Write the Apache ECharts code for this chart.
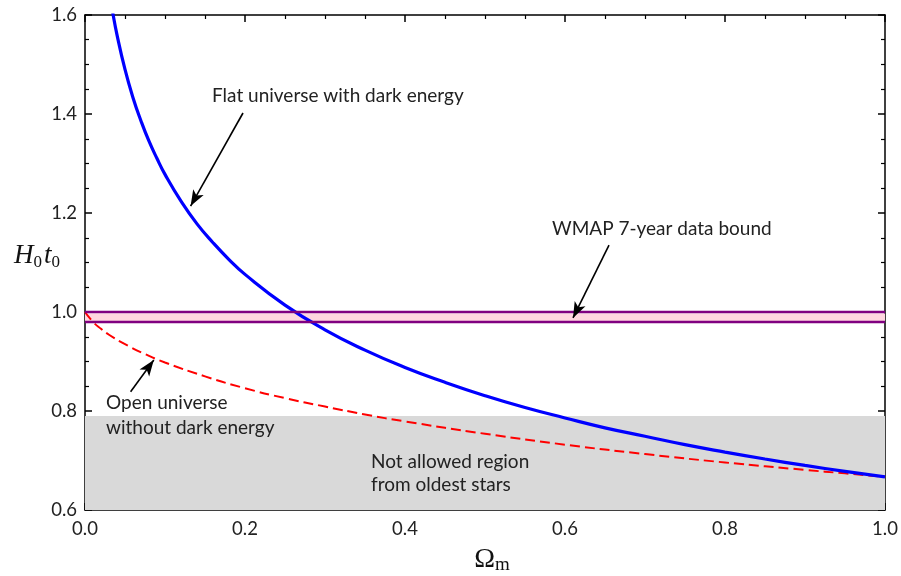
<!DOCTYPE html>
<html>
<head>
<meta charset="utf-8">
<script src="https://cdn.jsdelivr.net/npm/echarts@6/dist/echarts.min.js"></script>
<style>
html,body{margin:0;padding:0;background:#fff;}
#main{width:901px;height:576px;}
</style>
</head>
<body>
<div id="main"></div>
<script>
// ---- data ----
const xTicks = [0.0, 0.2, 0.4, 0.6, 0.8, 1.0];
const yTicks = [0.6, 0.8, 1.0, 1.2, 1.4, 1.6];

// Flat universe with dark energy (blue solid)
const omegaFlat = [0.03, 0.035, 0.04, 0.05, 0.06, 0.07, 0.08, 0.09, 0.10, 0.12, 0.14, 0.16, 0.18, 0.20, 0.25, 0.30, 0.35, 0.40, 0.45, 0.50, 0.55, 0.60, 0.65, 0.70, 0.75, 0.80, 0.85, 0.90, 0.95, 1.00];
const h0t0Flat  = [1.651, 1.602, 1.560, 1.490, 1.433, 1.386, 1.345, 1.310, 1.278, 1.224, 1.178, 1.140, 1.106, 1.076, 1.014, 0.964, 0.923, 0.888, 0.858, 0.831, 0.807, 0.786, 0.766, 0.749, 0.732, 0.717, 0.703, 0.690, 0.678, 0.667];

// Open universe without dark energy (red dashed)
const omegaOpen = [0.00, 0.01, 0.02, 0.03, 0.05, 0.075, 0.10, 0.15, 0.20, 0.25, 0.30, 0.35, 0.40, 0.50, 0.60, 0.70, 0.80, 0.90, 0.95, 1.00];
const h0t0Open  = [1.000, 0.980, 0.966, 0.954, 0.935, 0.915, 0.898, 0.870, 0.846, 0.826, 0.809, 0.793, 0.779, 0.754, 0.732, 0.713, 0.696, 0.681, 0.674, 0.667];

// WMAP 7-year band and excluded region (oldest stars)
const wmapBand = [0.980, 0.997];
const starsRegion = [0.6, 0.79];

// annotation arrows: [start, end] in data coordinates
const arrowFlat = [[0.1975, 1.402], [0.132, 1.214]];
const arrowWmap = [[0.655, 1.135], [0.610, 0.988]];
const arrowOpen = [[0.057, 0.839], [0.086, 0.903]];

const flatData = omegaFlat.map((x, i) => [x, h0t0Flat[i]]);
const openData = omegaOpen.map((x, i) => [x, h0t0Open[i]]);

const chart = echarts.init(document.getElementById('main'), null, {renderer: 'canvas'});

const tickFont = {fontFamily: 'Lato', fontSize: 18.5, color: '#222'};
const axisLineStyle = {color: '#000', width: 1.5};

function xAxisDef(pos, showLabel) {
  return {
    type: 'value', position: pos, min: 0, max: 1, interval: 0.2,
    axisLine: {show: true, onZero: false, lineStyle: axisLineStyle},
    axisTick: {show: true, inside: true, length: 7, lineStyle: {color: '#000', width: 1.5}},
    minorTick: {show: true, splitNumber: 4, length: 4, lineStyle: {color: '#000', width: 1.2}},
    axisLabel: Object.assign({show: showLabel, margin: 10, formatter: v => v.toFixed(1)}, tickFont),
    splitLine: {show: false}
  };
}
function yAxisDef(pos, showLabel) {
  return {
    type: 'value', position: pos, min: 0.6, max: 1.6, interval: 0.2,
    axisLine: {show: true, onZero: false, lineStyle: axisLineStyle},
    axisTick: {show: true, inside: true, length: 7, lineStyle: {color: '#000', width: 1.5}},
    minorTick: {show: true, splitNumber: 4, length: 4, lineStyle: {color: '#000', width: 1.2}},
    axisLabel: Object.assign({show: showLabel, margin: 8, formatter: v => v.toFixed(1)}, tickFont),
    splitLine: {show: false}
  };
}

function arrowLine(a) {
  return [{coord: a[0], symbol: 'none'}, {coord: a[1], symbol: 'arrow'}];
}

const textStyleBase = {fontFamily: 'Lato', fontSize: 19, fill: '#222', align: 'left', verticalAlign: 'middle'};
function label(txt, x, y) {
  return {type: 'text', x: x, y: y, z: 100, style: Object.assign({text: txt}, textStyleBase)};
}

const option = {
  animation: false,
  backgroundColor: '#fff',
  grid: {left: 85, right: 16, top: 15, bottom: 66, containLabel: false},
  xAxis: [xAxisDef('bottom', true), xAxisDef('top', false)],
  yAxis: [yAxisDef('left', true), yAxisDef('right', false)],
  series: [
    {
      name: 'regions', type: 'line', data: [], z: 1, silent: true,
      markArea: {
        silent: true,
        data: [
          [{yAxis: starsRegion[0], itemStyle: {color: '#d9d9d9'}}, {yAxis: starsRegion[1]}],
          [{yAxis: wmapBand[0], itemStyle: {color: '#ffd6df'}}, {yAxis: wmapBand[1]}]
        ]
      },
      markLine: {
        silent: true, symbol: 'none', label: {show: false},
        lineStyle: {color: '#800080', width: 2.4, type: 'solid'},
        data: [{yAxis: wmapBand[0]}, {yAxis: wmapBand[1]}]
      }
    },
    {
      name: 'Open universe without dark energy', type: 'line', data: openData,
      smooth: true, showSymbol: false, z: 3, clip: true,
      lineStyle: {color: '#ff0000', width: 2, type: [10, 5]}
    },
    {
      name: 'Flat universe with dark energy', type: 'line', data: flatData,
      smooth: true, showSymbol: false, z: 4, clip: true,
      lineStyle: {color: '#0000ff', width: 3.2}
    },
    {
      name: 'arrows', type: 'line', data: [], z: 5, silent: true,
      markLine: {
        silent: true, label: {show: false}, symbolSize: [9, 16],
        lineStyle: {color: '#000', width: 1.6, type: 'solid'},
        itemStyle: {color: '#000'},
        data: [arrowLine(arrowFlat), arrowLine(arrowWmap), arrowLine(arrowOpen)]
      }
    }
  ],
  graphic: [
    label('Flat universe with dark energy', 212, 96),
    label('WMAP 7-year data bound', 552, 229),
    label('Open universe', 106, 403),
    label('without dark energy', 106, 428),
    label('Not allowed region', 371, 462),
    label('from oldest stars', 371, 485),
    {
      type: 'text', x: 37, y: 256, z: 100,
      style: {
        text: '{H|H}{s|0}{t|t}{s|0}',
        align: 'center', verticalAlign: 'middle',
        rich: {
          H: {fontFamily: 'Liberation Serif', fontStyle: 'italic', fontSize: 27, lineHeight: 30, verticalAlign: 'middle', fill: '#111'},
          t: {fontFamily: 'Liberation Serif', fontStyle: 'italic', fontSize: 27, lineHeight: 30, verticalAlign: 'middle', fill: '#111', padding: [0, 0, 0, 2]},
          s: {fontFamily: 'Liberation Serif', fontSize: 17, lineHeight: 17, verticalAlign: 'bottom', fill: '#111'}
        }
      }
    },
    {
      type: 'text', x: 492, y: 560, z: 100,
      style: {
        text: '{O|Ω}{m|m}',
        align: 'center', verticalAlign: 'middle',
        rich: {
          O: {fontFamily: 'Liberation Serif', fontSize: 28, lineHeight: 30, verticalAlign: 'middle', fill: '#111'},
          m: {fontFamily: 'Liberation Serif', fontSize: 19, lineHeight: 19, verticalAlign: 'bottom', fill: '#111'}
        }
      }
    }
  ]
};

chart.setOption(option);
</script>
</body>
</html>
